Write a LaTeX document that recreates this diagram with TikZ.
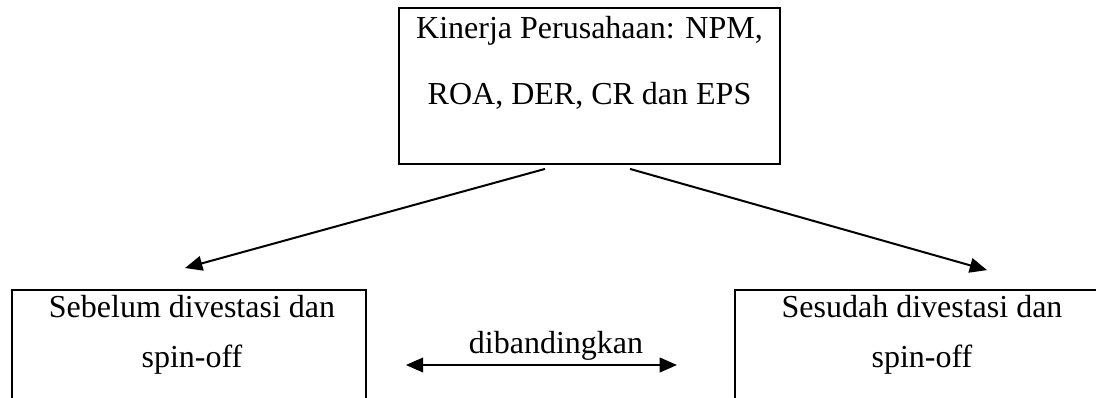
\documentclass[tikz,border=0pt]{standalone}
\usepackage{fontspec}
\setmainfont{Liberation Serif}
\usetikzlibrary{arrows.meta, positioning, calc}

\begin{document}
\begin{tikzpicture}[
    x=0.375pt, y=-0.375pt,
    box/.style={draw, line width=0.7pt, inner sep=0pt},
    boxtext/.style={align=center, inner sep=0pt, anchor=base},
    label/.style={inner sep=0pt, anchor=base, font=\fontsize{12}{14}\selectfont},
    arrow/.style={-{Triangle[length=6.5pt, width=5.5pt]}, line width=0.75pt},
    darrow/.style={{Triangle[length=6.5pt, width=5.5pt]}-{Triangle[length=6.5pt, width=5.5pt]}, line width=0.75pt},
  ]
  \useasboundingbox (0,0) rectangle (1096,398);

  % --- Top box ---
  \node[box, minimum width=142.9pt, minimum height=58.5pt] (kinerja) at (589.5,86) {};
  \node[boxtext, font=\fontsize{12}{25.1}\selectfont] (kinerjatext) at (589.5,105)
    {Kinerja Perusahaan: NPM,\\ROA, DER, CR dan EPS};

  % --- Bottom boxes (cut off by the page) ---
  \node[box, minimum width=132.75pt, minimum height=48.75pt] (sebelum) at (189,355) {};
  \node[boxtext, font=\fontsize{12}{18.4}\selectfont] (sebelumtext) at (192,367)
    {Sebelum divestasi dan\\spin-off};

  \node[box, minimum width=140.25pt, minimum height=48.75pt] (sesudah) at (922,355) {};
  \node[boxtext, font=\fontsize{12}{18.4}\selectfont] (sesudahtext) at (922,367)
    {Sesudah divestasi dan\\spin-off};

  % --- Arrows ---
  \draw[arrow] ([xshift=-16.7pt, yshift=-1.5pt]kinerja.south) -- ([xshift=-1.5pt, yshift=7.9pt]sebelum.north);
  \draw[arrow] ([xshift=15.2pt, yshift=-1.5pt]kinerja.south) -- ([xshift=24.4pt, yshift=7.1pt]sesudah.north);
  \draw[darrow] ([xshift=14.6pt, yshift=-3.75pt]sebelum.east) -- ([xshift=-21.4pt, yshift=-3.75pt]sesudah.west);

  \node[label] (banding) at (556,353) {dibandingkan};

\end{tikzpicture}
\end{document}
